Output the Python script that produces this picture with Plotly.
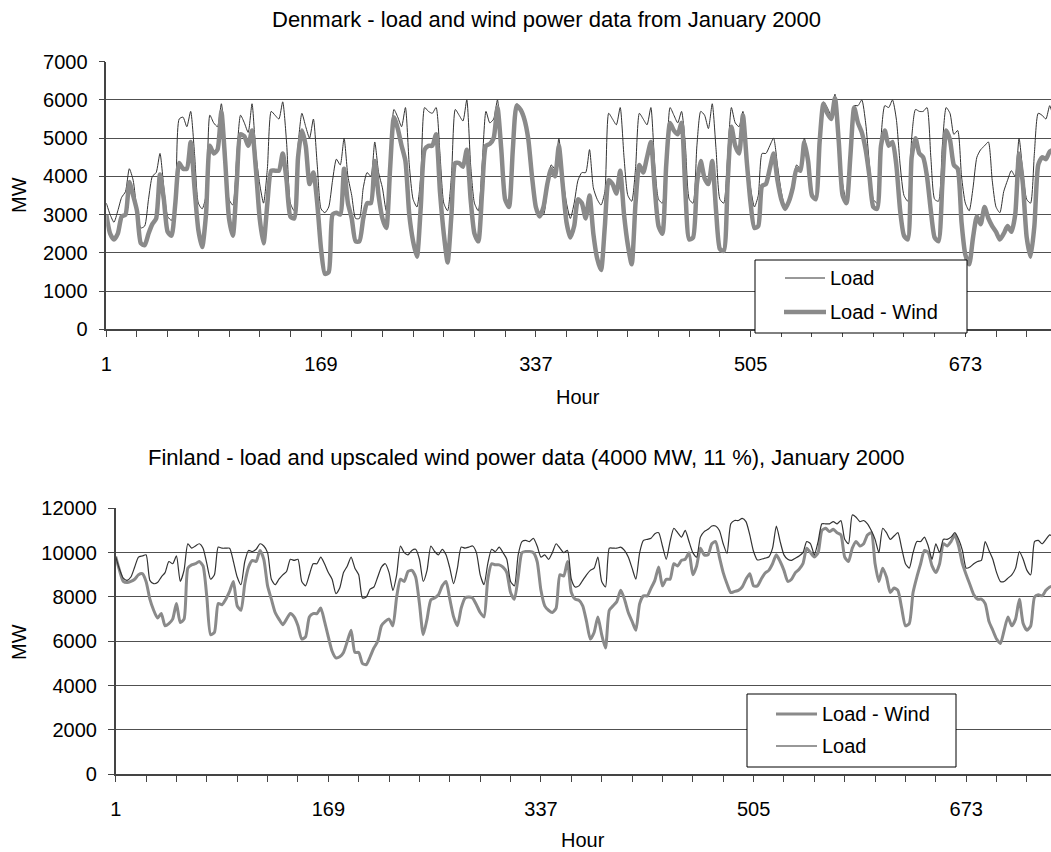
import plotly.graph_objects as go

# sample hours (every third hour of January 2000, hour 1 = Jan 1 00:00)
hours = list(range(1, 745, 3))

# ---- Denmark (MW), one row per day, samples at 00,03,06,09,12,15,18,21 ----
dk_load = [
    3300, 3000, 2800, 3100, 3450, 3600, 4200, 3900,
    3100, 2650, 2700, 3400, 4000, 4100, 4600, 3700,
    2950, 2850, 3300, 5500, 5550, 5300, 5700, 4600,
    3300, 3150, 3500, 5600, 5400, 5300, 5900, 4800,
    3400, 3250, 4500, 5600, 5400, 5150, 5900, 4600,
    3800, 3300, 4200, 5700, 5600, 5500, 5950, 4900,
    3300, 3100, 4800, 5650, 5300, 5000, 5500, 4300,
    3150, 3050, 3200, 3900, 4450, 4300, 5000, 4000,
    3500, 2900, 2900, 3700, 4100, 4000, 4900, 4100,
    3700, 3100, 4200, 5750, 5550, 5300, 5800, 4300,
    3400, 3200, 4000, 5800, 5700, 5650, 5800, 4600,
    3300, 3100, 4000, 5750, 5600, 5450, 6000, 4300,
    3300, 3100, 4300, 5700, 5400, 5500, 6000, 4700,
    3500, 3300, 4800, 5900, 5800, 5600, 5100, 4100,
    3300, 3000, 3000, 3700, 4300, 4200, 5000, 4000,
    3300, 2900, 3300, 3900, 4100, 4100, 4700, 3700,
    3400, 3250, 3600, 5650, 5500, 5350, 5800, 4500,
    3500, 3350, 4200, 5650, 5500, 5350, 5800, 4300,
    3400, 3300, 4200, 5800, 5600, 5400, 5700, 4800,
    3400, 3300, 4800, 5700, 5600, 5250, 5900, 4700,
    3400, 3300, 4500, 5800, 5400, 5300, 5700, 4600,
    3700, 3200, 3500, 4600, 4600, 4800, 5000, 4300,
    3600, 3200, 3400, 3800, 4300, 4200, 5000, 4500,
    3600, 3400, 5000, 5950, 5800, 5600, 6150, 5100,
    3800, 3350, 4700, 5850, 5850, 6000, 5400, 4300,
    3400, 3300, 5000, 5850, 5800, 6000, 5500, 4300,
    3500, 3350, 5000, 5750, 5700, 5700, 5800, 4500,
    3400, 3350, 4800, 5800, 5650, 5100, 5200, 4000,
    3300, 3100, 3700, 4500, 4700, 4800, 4900, 3900,
    3200, 3050, 3600, 3900, 4150, 4000, 5000, 4100,
    3400, 3300, 4600, 5650, 5600, 5500, 5850, 5500,
]
dk_load_wind = [
    3000, 2500, 2350, 2500, 2950, 3000, 3850, 3500,
    3100, 2250, 2200, 2500, 2750, 2900, 4050, 3400,
    2550, 2450, 3300, 4350, 4200, 4200, 4900, 3700,
    2600, 2150, 3000, 4800, 4600, 4700, 5700, 4400,
    2900, 2450, 3800, 5100, 5050, 4800, 5200, 4200,
    2900, 2250, 3300, 4150, 4150, 4150, 4600, 3900,
    2950, 2900, 4500, 5200, 4800, 3800, 4100, 3300,
    2100, 1450, 1500, 3000, 3050, 3000, 4200, 3300,
    2900, 2300, 2300, 2900, 3300, 3300, 4400, 3500,
    2900, 2650, 4200, 5550, 5250, 4800, 4400, 3000,
    2300, 1900, 3200, 4700, 4800, 4800, 5100, 3600,
    2500, 1750, 3000, 4350, 4350, 4250, 4700, 3400,
    2500, 2300, 3600, 4800, 4850, 5000, 5800, 4700,
    3400, 3200, 4700, 5850, 5750, 5500, 5000, 4000,
    3200, 2950, 3200, 3800, 4200, 4000, 4800, 3800,
    2800, 2400, 2700, 3400, 3300, 2900, 3500, 2500,
    1850, 1550, 2700, 3900, 3800, 3550, 4150, 3000,
    2200, 1700, 3300, 4300, 4100, 4500, 4900, 3700,
    2700, 2500, 4300, 5400, 5200, 5100, 5400, 3600,
    2350, 2400, 3800, 4400, 3950, 3800, 4400, 3100,
    2100, 2050, 3800, 5300, 4800, 4600, 5600, 4400,
    3300, 2650, 2700, 3750, 3800, 4200, 4600, 3900,
    3400, 3150, 3350, 3700, 4200, 4150, 4900, 4400,
    3500, 3400, 4900, 5900, 5650, 5500, 6050, 4900,
    3500, 3300, 4500, 5800, 5400, 5150, 4700, 4000,
    3200, 3150, 4800, 5200, 4800, 4900, 4300, 3100,
    2450, 2350, 4500, 5000, 4600, 4500, 4000, 3100,
    2400, 2300, 3800, 5200, 4950, 4300, 4200, 2800,
    1950, 1700, 2400, 2950, 2750, 3200, 2900, 2700,
    2550, 2350, 2500, 2700, 2550, 3000, 4600, 3800,
    2400, 1900, 2700, 4300, 4500, 4450, 4650, 4700,
]

# ---- Finland (MW) ----
fi_load = [
    9820, 9250, 8850, 8750, 8900, 9350, 9800, 9850,
    9900, 8750, 8600, 8650, 8900, 9100, 9600, 9500,
    9850, 8700, 9200, 10400, 10200, 10300, 10400, 10200,
    9500, 8800, 9000, 10250, 10200, 10200, 10200, 9600,
    8900, 8550, 9600, 10100, 10050, 10150, 10400, 10300,
    10000, 8800, 8550, 8800, 9000, 9150, 9700, 9650,
    9700, 8700, 8500, 9000, 9500, 9500, 9800, 9500,
    9100, 8800, 8150, 8400, 9100, 9400, 9800, 9300,
    9000, 7950, 8000, 8350, 8450, 8900, 9350, 9500,
    9100, 8300, 9000, 10300, 10000, 9900, 10100, 10150,
    9700, 8700, 9200, 10300, 10050, 9900, 10150, 9900,
    9300, 8600, 9300, 10250, 10200, 10250, 10300, 10000,
    9000, 8550, 9500, 10150, 10050, 10250, 10000, 9700,
    8700, 8500, 9900, 10500, 10550, 10500, 10650, 10300,
    9800, 9900, 9700, 10000, 10400, 10200, 10000, 10100,
    8800, 8450, 8500, 8750, 9000, 9200, 9300, 9800,
    8700, 8450, 10200, 10200, 10200, 10250, 10100, 9800,
    9300, 8800, 10000, 10550, 10600, 10650, 10850, 10900,
    10300, 9700, 10500, 11100, 10900, 10700, 11000, 10500,
    10000, 9800, 10700, 10950, 11050, 11200, 11200, 11000,
    10400, 9970, 11300, 11450, 11450, 11550, 11400, 10800,
    10050, 9670, 9700, 9750, 9800, 10200, 11200, 10500,
    9900, 9700, 9650, 9750, 9850, 10000, 10500, 10400,
    9900, 10500, 11300, 11300, 11300, 11400, 11300, 11450,
    10600, 10400, 11700, 11600, 11400, 11450, 11300, 11000,
    10600, 10000, 11100, 10900, 10600, 10750, 10900, 10200,
    9500, 9300, 10000, 10500, 10500, 10700, 10300, 9700,
    10400, 10000, 10600, 10600, 10700, 10900, 10600, 10100,
    9300, 9350, 9500, 9600, 9650, 10500, 10100, 9700,
    9100, 8700, 8700, 8850, 9000, 9300, 10050, 9700,
    9200, 9000, 10500, 10550, 10400, 10600, 10800, 10700,
]
fi_load_wind = [
    9820, 9200, 8700, 8650, 8700, 8800, 9000, 9050,
    8700, 7900, 7400, 7050, 7250, 6700, 6800, 7000,
    7700, 6850, 7000, 9300, 9450, 9500, 9600, 9400,
    8000, 6300, 6400, 7700, 7650, 7900, 8250, 8700,
    7600, 7400, 8600, 9350, 9650, 9600, 10100, 9700,
    8500, 7900, 7300, 7000, 6750, 7000, 7250, 7100,
    6700, 6100, 6200, 7100, 7250, 7250, 7500, 6900,
    6200, 5550, 5250, 5300, 5500, 6000, 6500, 5500,
    5500, 5000, 4950, 5300, 5700, 6000, 6700, 6900,
    7000, 6700, 8000, 8800, 8700, 9150, 9200, 8900,
    7700, 6300, 7000, 7870, 7950, 8100, 8500, 8700,
    7900, 7100, 6700, 7500, 7950, 8000, 7950, 7650,
    7300, 7100, 8800, 9500, 9450, 9450, 9350, 9100,
    8200, 7900, 8900, 10000, 10050, 10050, 10000, 9600,
    8300, 7600, 7400, 7300, 7500, 9000, 8950, 9600,
    8200, 7900, 7850, 7600, 6900, 6100, 6400, 7100,
    6300, 5700, 7400, 7600, 7800, 8300, 7900, 7300,
    6900, 6500, 7700, 8050, 8050, 8400, 8750, 9350,
    8500, 8800, 8800, 9500, 9400, 9650, 9700, 10000,
    9000, 9400, 10200, 9900, 9900, 10400, 10500, 9800,
    9100, 8600, 8200, 8250, 8300, 8450, 8800, 9050,
    8500, 8500, 8800, 9070, 9200, 9500, 9900, 9600,
    9200, 8700, 8800, 9100, 9250, 9500, 10200, 10000,
    9800, 10000, 11000, 11100, 10950, 11050, 10900, 10800,
    9800, 9600, 10200, 10500, 10300, 10400, 10800, 10900,
    9500, 8700, 9300, 8900, 8200, 8400, 8300, 7500,
    6700, 6800, 8200, 8900, 9500, 10100, 10000, 9400,
    9100, 9500, 10400, 10300, 10500, 10800, 10300, 9500,
    9000, 8550, 8100, 7900, 7900, 7700, 6900, 6500,
    6100, 5900, 6500, 7100, 6700, 7000, 7900, 6800,
    6500, 6700, 8000, 8100, 8050, 8300, 8450, 8500,
]

hour_ticks = [1, 169, 337, 505, 673]
dk_title = "Denmark - load and wind power data from January 2000"
fi_title = "Finland - load and upscaled wind power data (4000 MW, 11 %), January 2000"

W, H = 1051, 852
def px(x):
    return x / W
def py(y):
    return 1 - y / H

FONT = "Liberation Sans, Arial, Helvetica, sans-serif"
DARK = "#333333"
GREY = "#8a8a8a"
AX = "#444444"
GRID = "#505050"

fig = go.Figure()
fig.add_trace(go.Scatter(x=hours, y=dk_load, mode="lines", name="Load",
                         line=dict(color=DARK, width=1, shape="spline", smoothing=0.6),
                         xaxis="x", yaxis="y", showlegend=False))
fig.add_trace(go.Scatter(x=hours, y=dk_load_wind, mode="lines", name="Load - Wind",
                         line=dict(color=GREY, width=4.5, shape="spline", smoothing=0.6),
                         xaxis="x", yaxis="y", showlegend=False))
fig.add_trace(go.Scatter(x=hours, y=fi_load_wind, mode="lines", name="Load - Wind",
                         line=dict(color=GREY, width=3, shape="spline", smoothing=0.6),
                         xaxis="x2", yaxis="y2", showlegend=False))
fig.add_trace(go.Scatter(x=hours, y=fi_load, mode="lines", name="Load",
                         line=dict(color=DARK, width=1.2, shape="spline", smoothing=0.6),
                         xaxis="x2", yaxis="y2", showlegend=False))

xcommon = dict(range=[1, 740], tickmode="array", tickvals=hour_ticks,
               ticktext=[str(v) for v in hour_ticks], ticks="outside", ticklen=6,
               tickcolor=AX, tickwidth=1, showline=True, linecolor=AX, linewidth=1.5,
               showgrid=False, zeroline=False, tickfont=dict(size=20, color="black"),
               ticklabelstandoff=10, automargin=False,
               minor=dict(tick0=1, dtick=24, ticks="outside", ticklen=6,
                          tickcolor=AX, tickwidth=1, showgrid=False))
ycommon = dict(ticks="outside", ticklen=6, tickcolor=AX, tickwidth=1, showline=True,
               linecolor=AX, linewidth=1.5, showgrid=True, gridcolor=GRID, gridwidth=1,
               zeroline=False, tickformat="d", tickfont=dict(size=20, color="black"),
               ticklabelstandoff=7, automargin=False)

fig.update_layout(
    width=W, height=H, margin=dict(l=0, r=0, t=0, b=0, autoexpand=False),
    paper_bgcolor="white", plot_bgcolor="white",
    font=dict(family=FONT, size=20, color="black"),
    xaxis=dict(domain=[px(106.3), 1], anchor="y", **xcommon),
    yaxis=dict(domain=[py(329.3), py(61.7)], anchor="x", range=[0, 7000], dtick=1000,
               **ycommon),
    xaxis2=dict(domain=[px(115.7), 1], anchor="y2", **xcommon),
    yaxis2=dict(domain=[py(774.3), py(508.3)], anchor="x2", range=[0, 12000], dtick=2000,
                **ycommon),
)

ann = []
def text(x, y, s, size=20, xanchor="center", angle=0):
    ann.append(dict(x=px(x), y=py(y), xref="paper", yref="paper", text=s, showarrow=False,
                    xanchor=xanchor, yanchor="middle", textangle=angle,
                    font=dict(family=FONT, size=size, color="black")))

text(546, 19, dk_title, size=22)
text(526, 457, fi_title, size=22)
text(578, 397, "Hour")
text(583, 840, "Hour")
text(19, 195, "MW", angle=-90)
text(19, 642, "MW", angle=-90)

shapes = []
def legend_box(x0, y0, x1, y1, items):
    shapes.append(dict(type="rect", xref="paper", yref="paper", x0=px(x0), x1=px(x1),
                       y0=py(y1), y1=py(y0), fillcolor="white",
                       line=dict(color="black", width=1), layer="above"))
    for (lx0, lx1, ly, color, width, label, tx) in items:
        shapes.append(dict(type="line", xref="paper", yref="paper", x0=px(lx0), x1=px(lx1),
                           y0=py(ly), y1=py(ly), line=dict(color=color, width=width),
                           layer="above"))
        text(tx, ly, label, xanchor="left")

legend_box(755, 260, 967, 333, [
    (785, 825, 278, DARK, 1, "Load", 828),
    (784, 826, 312, GREY, 4.5, "Load - Wind", 828),
])
legend_box(747, 694, 956, 767, [
    (776, 817, 714, GREY, 3, "Load - Wind", 820),
    (776, 817, 746, DARK, 1.2, "Load", 820),
])

fig.update_layout(annotations=ann, shapes=shapes)
fig.write_html("out.html")
